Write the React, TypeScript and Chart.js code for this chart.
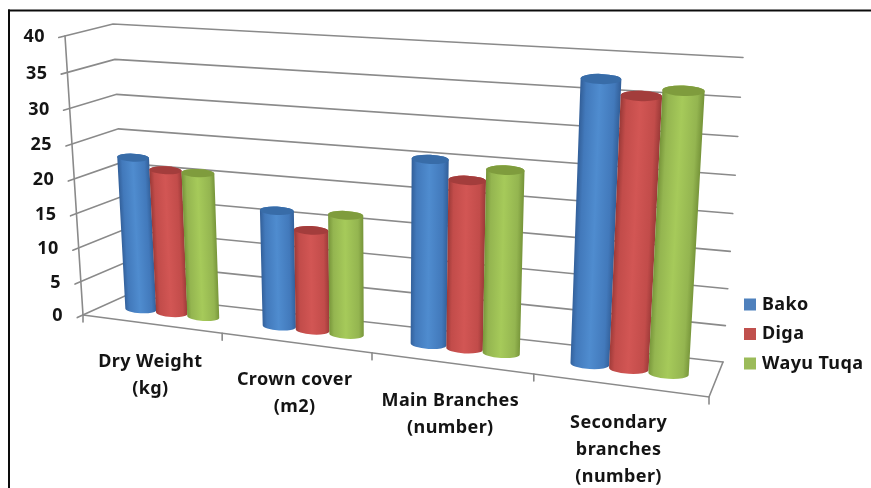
import React, { useEffect, useRef } from "react";
import { Chart, registerables } from "chart.js";

Chart.register(...registerables);

const categories = [
  ["Dry Weight", "(kg)"],
  ["Crown cover", "(m2)"],
  ["Main Branches", "(number)"],
  ["Secondary", "branches", "(number)"],
];
const bako = [22.4, 16.7, 25.7, 37.8];
const diga = [21, 14.4, 23.3, 36];
const wayuTuqa = [21, 17, 25.1, 37];

const valueMax = 40;
const valueStep = 5;

type Pt = { x: number; y: number };

// Screen positions of the plot box corners, indexed [across][up][depth].
const corners: Pt[][][] = [
  [
    [{ x: 83, y: 315 }, { x: 127, y: 295 }],
    [{ x: 65, y: 36 }, { x: 113, y: 24 }],
  ],
  [
    [{ x: 709, y: 397 }, { x: 723, y: 362 }],
    [{ x: 727, y: 82 }, { x: 743, y: 57.5 }],
  ],
];
const acrossWeight = 0.8576;
const upWeight = 0.951;

const warp = (t: number, k: number) => (k * t) / (1 - t + k * t);
const mix = (a: Pt, b: Pt, t: number): Pt => ({
  x: a.x + (b.x - a.x) * t,
  y: a.y + (b.y - a.y) * t,
});

// Maps box coordinates (each 0..1) to canvas pixels with foreshortening.
function project(u: number, v: number, z: number): Pt {
  const uu = warp(u, acrossWeight);
  const vv = warp(v, upWeight);
  const side = (i: number) =>
    mix(
      mix(corners[i][0][0], corners[i][0][1], z),
      mix(corners[i][1][0], corners[i][1][1], z),
      vv
    );
  return mix(side(0), side(1), uu);
}

const shades = [
  { edge: "#33609a", mid: "#4279bb", light: "#4f8ccf", cap: "#386ca8" },
  { edge: "#9c3a38", mid: "#c24c4a", light: "#d25654", cap: "#a33d3c" },
  { edge: "#77953a", mid: "#94b550", light: "#a6ca5a", cap: "#7f9c3d" },
];
const legendSwatches = ["#4f81bd", "#c0504d", "#9bbb59"];
const gridColor = "#8a8a8a";
const textFont = "bold 18px 'Noto Sans'";
const textColor = "#141414";

function line(ctx: CanvasRenderingContext2D, pts: Pt[]) {
  ctx.beginPath();
  pts.forEach((p, i) => (i ? ctx.lineTo(p.x, p.y) : ctx.moveTo(p.x, p.y)));
  ctx.stroke();
}

function drawCylinder(
  ctx: CanvasRenderingContext2D,
  u: number,
  halfU: number,
  vTop: number,
  shade: (typeof shades)[number]
) {
  const depth = 0.5;
  const ends = [0, vTop].map((v) => {
    const l = project(u - halfU, v, depth);
    const r = project(u + halfU, v, depth);
    return {
      c: mix(l, r, 0.5),
      r: Math.hypot(r.x - l.x, r.y - l.y) / 2,
      a: Math.atan2(r.y - l.y, r.x - l.x) * 0.5,
    };
  });
  const [bottom, top] = ends;
  const squash = 0.25;

  const ax = top.c.x - bottom.c.x;
  const ay = top.c.y - bottom.c.y;
  const len = Math.hypot(ax, ay) || 1;
  const nx = -ay / len;
  const ny = ax / len;
  const mx = (top.c.x + bottom.c.x) / 2;
  const my = (top.c.y + bottom.c.y) / 2;
  const rr = (top.r + bottom.r) / 2;
  const sign = nx > 0 ? 1 : -1;
  const g = ctx.createLinearGradient(
    mx - sign * nx * rr,
    my - sign * ny * rr,
    mx + sign * nx * rr,
    my + sign * ny * rr
  );
  g.addColorStop(0, shade.edge);
  g.addColorStop(0.14, shade.mid);
  g.addColorStop(0.48, shade.light);
  g.addColorStop(0.85, shade.mid);
  g.addColorStop(1, shade.edge);

  ctx.beginPath();
  ctx.ellipse(bottom.c.x, bottom.c.y, bottom.r, bottom.r * squash, bottom.a, Math.PI, 0, true);
  ctx.ellipse(top.c.x, top.c.y, top.r, top.r * squash, top.a, 0, Math.PI, true);
  ctx.closePath();
  ctx.fillStyle = g;
  ctx.fill();

  ctx.beginPath();
  ctx.ellipse(top.c.x, top.c.y, top.r, top.r * squash, top.a, 0, Math.PI * 2);
  ctx.fillStyle = shade.cap;
  ctx.fill();
}

// Draws the perspective box, cylinders, labels and key from the chart's scales.
const cylinderScene = {
  id: "cylinderScene",
  beforeDraw(chart: Chart) {
    const ctx = chart.ctx;
    ctx.save();
    ctx.fillStyle = "#ffffff";
    ctx.fillRect(0, 0, chart.width, chart.height);
    ctx.fillStyle = "#0c0c0c";
    ctx.fillRect(8, 9.5, chart.width - 8, 2);
    ctx.fillRect(8, 9.5, 2, chart.height - 9.5);
    ctx.restore();
  },
  beforeDatasetsDraw(chart: Chart) {
    const ctx = chart.ctx;
    const area = chart.chartArea;
    const yScale = chart.scales.y;
    const xScale = chart.scales.x;
    const toV = (px: number) => (area.bottom - px) / (area.bottom - area.top);
    const toU = (px: number) => (px - area.left) / (area.right - area.left);

    ctx.save();
    ctx.strokeStyle = gridColor;
    ctx.lineWidth = 1.6;
    ctx.lineCap = "round";

    // Walls and value ticks
    yScale.ticks.forEach((tick) => {
      const v = toV(yScale.getPixelForValue(tick.value));
      line(ctx, [project(0, v, -0.13), project(0, v, 1), project(1, v, 1)]);
    });
    line(ctx, [project(0, 0, 0), project(0, 1, 0)]);

    // Floor edges and category ticks
    line(ctx, [project(0, 0, 0), project(1, 0, 0), project(1, 0, 1)]);
    xScale.getLabels().forEach((_, i) => {
      const px = i === 0 ? area.left : (xScale.getPixelForValue(i - 1) + xScale.getPixelForValue(i)) / 2;
      const p = project(toU(px), 0, 0);
      line(ctx, [p, { x: p.x, y: p.y + 7 }]);
    });
    const end = project(1, 0, 0);
    line(ctx, [end, { x: end.x, y: end.y + 7 }]);

    // Cylinders, one series after another so later ones sit in front
    chart.data.datasets.forEach((_, di) => {
      const meta = chart.getDatasetMeta(di);
      meta.data.forEach((bar: any) => {
        const halfU = bar.width / 2 / (area.right - area.left);
        drawCylinder(ctx, toU(bar.x), halfU, toV(bar.y), shades[di]);
      });
    });

    // Value labels follow the slanted front edge
    ctx.fillStyle = textColor;
    ctx.font = textFont;
    (ctx as any).letterSpacing = "0.4px";
    ctx.textAlign = "right";
    ctx.textBaseline = "middle";
    yScale.ticks.forEach((tick) => {
      const v = toV(yScale.getPixelForValue(tick.value));
      const p = project(0, v, 0);
      ctx.fillText(String(tick.value), p.x - 20, p.y + 1);
    });

    // Category labels under the floor
    ctx.textAlign = "center";
    (chart.data.labels as string[][]).forEach((lines, i) => {
      const p = project(toU(xScale.getPixelForValue(i)), 0, 0);
      lines.forEach((text, li) => {
        ctx.fillText(text, p.x - 1, p.y + 37.5 + li * 27);
      });
    });

    // Series key
    ctx.textAlign = "left";
    chart.data.datasets.forEach((ds, i) => {
      const y = 304.5 + i * 29.5;
      ctx.fillStyle = legendSwatches[i];
      ctx.fillRect(744, y - 6, 12, 12);
      ctx.fillStyle = textColor;
      ctx.fillText(String(ds.label), 762, y);
    });
    ctx.restore();
    return false;
  },
};

export default function App() {
  const ref = useRef<HTMLCanvasElement>(null);

  useEffect(() => {
    const chart = new Chart(ref.current as HTMLCanvasElement, {
      type: "bar",
      data: {
        labels: categories as any,
        datasets: [
          { label: "Bako", data: bako, backgroundColor: legendSwatches[0] },
          { label: "Diga", data: diga, backgroundColor: legendSwatches[1] },
          { label: "Wayu Tuqa", data: wayuTuqa, backgroundColor: legendSwatches[2] },
        ],
      },
      options: {
        responsive: false,
        animation: false,
        layout: { padding: 0 },
        datasets: { bar: { categoryPercentage: 0.69, barPercentage: 1 } },
        scales: {
          x: { display: false },
          y: {
            display: false,
            min: 0,
            max: valueMax,
            ticks: { stepSize: valueStep },
          },
        },
        plugins: { legend: { display: false }, tooltip: { enabled: false } },
      },
      plugins: [cylinderScene as any],
    });
    return () => chart.destroy();
  }, []);

  return (
    <div style={{ position: "absolute", left: 0, top: 0, width: 871, height: 488 }}>
      <canvas ref={ref} width={871} height={488} style={{ display: "block" }} />
    </div>
  );
}
